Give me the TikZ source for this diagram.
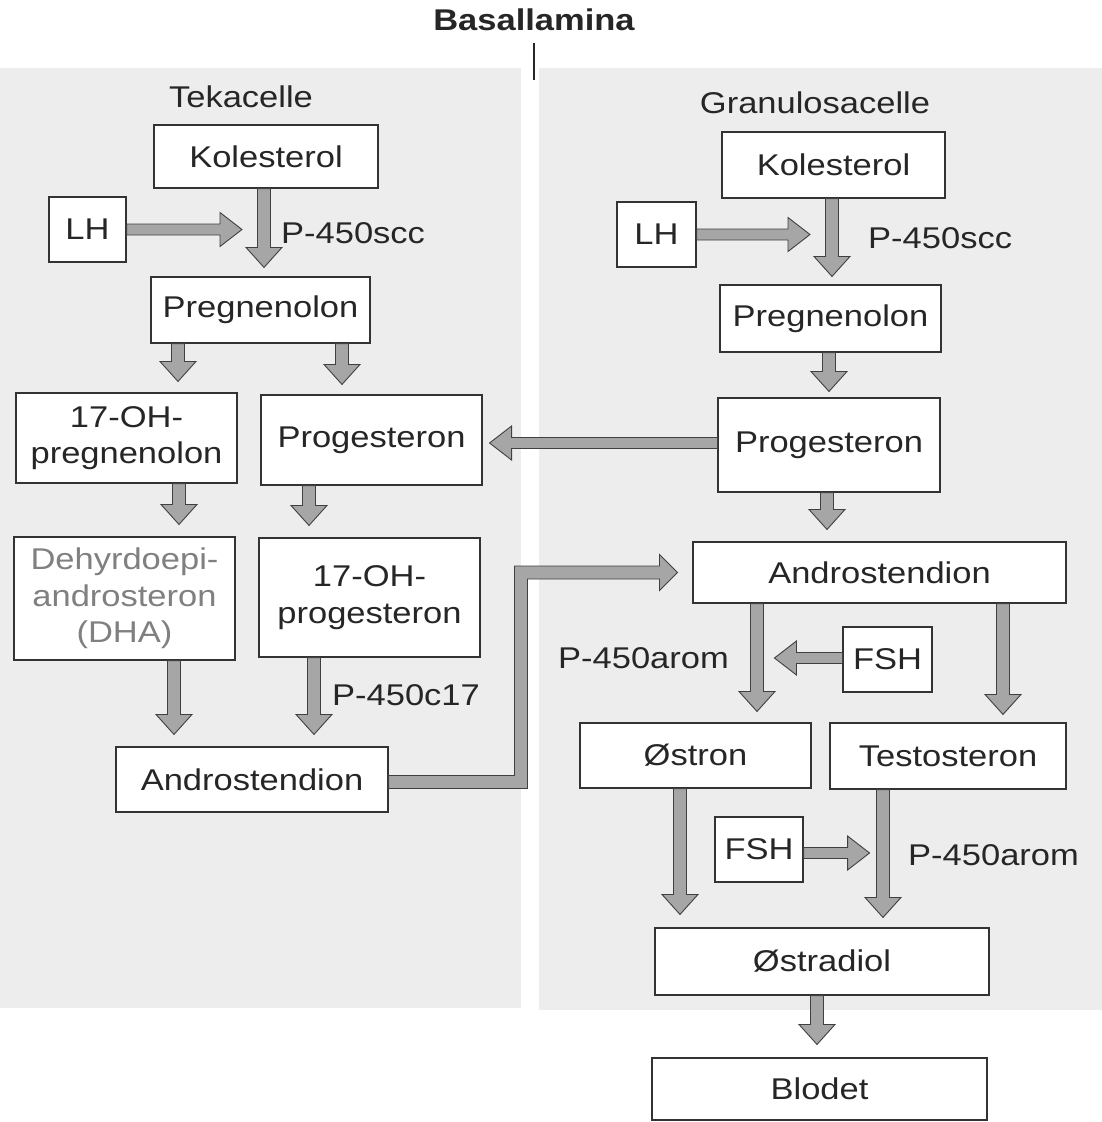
\documentclass[tikz,border=0pt]{standalone}
\usepackage{fontspec}
\setmainfont{Liberation Sans}[FakeStretch=1.15]
\usetikzlibrary{calc}
\def\shw{6.5pt}\def\hdw{18pt}\def\hdl{20pt}
\begin{document}
\begin{tikzpicture}[x=1pt,y=-1pt,
  txt/.style={text=black!85, font=\fontsize{30}{36.5}\selectfont},
  box/.style={txt, draw=black!80, line width=1.1pt, fill=white, inner sep=0pt, align=center},
  lbl/.style={txt, inner sep=0pt},
  thinarrow/.code={\def\shw{5.5pt}\def\hdw{17pt}\def\hdl{22pt}},
  arrowlook/.style={draw=black!75, line width=0.9pt, fill=black!35, line join=miter},
  barrow/.style={arrowlook,
    to path={let \p1=(\tikztostart), \p2=(\tikztotarget), \p3=($(\tikztotarget)!\hdl!(\tikztostart)$) in
      ($(\p1)!\shw!90:(\p2)$) -- ($(\p3)!\shw!-90:(\p1)$) -- ($(\p3)!\hdw!-90:(\p1)$) -- (\p2)
      -- ($(\p3)!\hdw!90:(\p1)$) -- ($(\p3)!\shw!90:(\p1)$) -- ($(\p1)!\shw!-90:(\p2)$) -- cycle}}
]
\useasboundingbox (0,0) rectangle (1102,1122);
\fill[white] (0,0) rectangle (1102,1122);
% stippled cell regions
\fill[black!7] (0,68) rectangle (521,1008);
\fill[black!7] (539,68) rectangle (1102,1010);

% titles
\node[lbl, font=\fontsize{30}{36}\selectfont\bfseries] (basal) at (534,20) {Basallamina};
\draw[black!85, line width=1.2pt] (basal.south |- 0,43) -- (basal.south |- 0,80);
\node[lbl] (teka) at (241,97) {Tekacelle};
\node[lbl] (granu) at (815,103) {Granulosacelle};

% theca cell
\node[box, minimum width=224pt, minimum height=63pt] (kolL) at (266,156.5) {Kolesterol};
\node[box, minimum width=77pt, minimum height=65pt] (lhL) at (87.5,229.5) {LH};
\node[box, minimum width=219pt, minimum height=66pt] (pregL) at (260.5,310) {Pregnenolon};
\node[box, minimum width=221pt, minimum height=90pt] (ohpreg) at (126.5,438) {17-OH-\\pregnenolon};
\node[box, minimum width=221pt, minimum height=90pt] (progL) at (371.5,440) {Progesteron};
\node[box, minimum width=221pt, minimum height=123pt, text=black!50] (dha) at (124.5,598.5) {Dehyrdoepi-\\androsteron\\(DHA)};
\node[box, minimum width=221pt, minimum height=119pt] (ohprog) at (369.5,597.5) {17-OH-\\progesteron};
\node[box, minimum width=272pt, minimum height=65pt] (androL) at (252,779.5) {Androstendion};

% granulosa cell
\node[box, minimum width=223pt, minimum height=66pt] (kolR) at (833.5,165) {Kolesterol};
\node[box, minimum width=79pt, minimum height=65pt] (lhR) at (656.5,234.5) {LH};
\node[box, minimum width=221pt, minimum height=67pt] (pregR) at (830.5,318.5) {Pregnenolon};
\node[box, minimum width=222pt, minimum height=94pt] (progR) at (829,445) {Progesteron};
\node[box, minimum width=373pt, minimum height=61pt] (androR) at (879.5,572.5) {Androstendion};
\node[box, minimum width=89pt, minimum height=65pt] (fsh1) at (887.5,659.5) {FSH};
\node[box, minimum width=231pt, minimum height=65pt] (ostron) at (695.5,755.5) {Østron};
\node[box, minimum width=236pt, minimum height=66pt] (testo) at (948,756) {Testosteron};
\node[box, minimum width=88pt, minimum height=65pt] (fsh2) at (759,849.5) {FSH};
\node[box, minimum width=334pt, minimum height=67pt] (ostradiol) at (822,961.5) {Østradiol};
\node[box, minimum width=335pt, minimum height=62pt] (blodet) at (819.5,1089) {Blodet};

% enzyme labels
\node[lbl, anchor=west] (sccL) at (281,233) {P-450scc};
\node[lbl, anchor=west] (sccR) at (868,238) {P-450scc};
\node[lbl, anchor=west] (c17) at (332,695) {P-450c17};
\node[lbl, anchor=east] (arom1) at (729,658) {P-450arom};
\node[lbl, anchor=west] (arom2) at (908,855) {P-450arom};

% theca arrows
\draw[barrow] (kolL.south -| 264,0) to ($(pregL.north -| 264,0)+(0,-9)$);
\draw[barrow, thinarrow] (lhL.east) to ($(lhL.east -| 264,0)+(-22,0)$);
\draw[barrow] (pregL.south -| 178,0) to ($(ohpreg.north -| 178,0)+(0,-11)$);
\draw[barrow] (pregL.south -| 342,0) to ($(progL.north -| 342,0)+(0,-10)$);
\draw[barrow] (ohpreg.south -| 179,0) to ($(dha.north -| 179,0)+(0,-12)$);
\draw[barrow] (progL.south -| 309,0) to ($(ohprog.north -| 309,0)+(0,-12)$);
\draw[barrow] (dha.south -| 174,0) to ($(androL.north -| 174,0)+(0,-12)$);
\draw[barrow] (ohprog.south -| 314,0) to ($(androL.north -| 314,0)+(0,-12)$);

% granulosa arrows
\draw[barrow] (kolR.south -| 832,0) to ($(pregR.north -| 832,0)+(0,-8)$);
\draw[barrow, thinarrow] (lhR.east) to (lhR.east -| 810,0);
\draw[barrow] (pregR.south -| 829,0) to ($(progR.north -| 829,0)+(0,-6)$);
\draw[barrow, thinarrow] (progR.west |- 0,443) to ($(progL.east |- 0,443)+(7,0)$);
\draw[barrow] (progR.south -| 827,0) to ($(androR.north -| 827,0)+(0,-12)$);
\draw[barrow] (androR.south -| 757,0) to ($(ostron.north -| 757,0)+(0,-11)$);
\draw[barrow] (androR.south -| 1003,0) to ($(testo.north -| 1003,0)+(0,-8)$);
\draw[barrow, thinarrow] (fsh1.west |- 0,658) to ($(fsh1.west |- 0,658)+(-68,0)$);
\draw[barrow] (ostron.south -| 680,0) to ($(ostradiol.north -| 680,0)+(0,-13)$);
\draw[barrow] (testo.south -| 883,0) to ($(ostradiol.north -| 883,0)+(0,-10)$);
\draw[barrow, thinarrow] (fsh2.east |- 0,853) to ($(fsh2.east |- 0,853)+(66,0)$);
\draw[barrow] (ostradiol.south -| 817,0) to ($(blodet.north -| 817,0)+(0,-13)$);

% elbow arrow from theca androstendion to granulosa androstendion
\coordinate (e1) at (521,782);
\coordinate (e2) at (e1 |- androR.west);
\coordinate (e3) at ($(androR.west)+(-15,0)$);
\draw[arrowlook] ($(androL.east |- e1)+(0,-6.5)$) -- ($(e1)+(-6.5,-6.5)$) -- ($(e2)+(-6.5,-6.5)$)
  -- ($(e3)+(-18,-6.5)$) -- ($(e3)+(-18,-18)$) -- (e3) -- ($(e3)+(-18,18)$) -- ($(e3)+(-18,6.5)$)
  -- ($(e2)+(6.5,6.5)$) -- ($(e1)+(6.5,6.5)$) -- ($(androL.east |- e1)+(0,6.5)$) -- cycle;
\end{tikzpicture}
\end{document}
